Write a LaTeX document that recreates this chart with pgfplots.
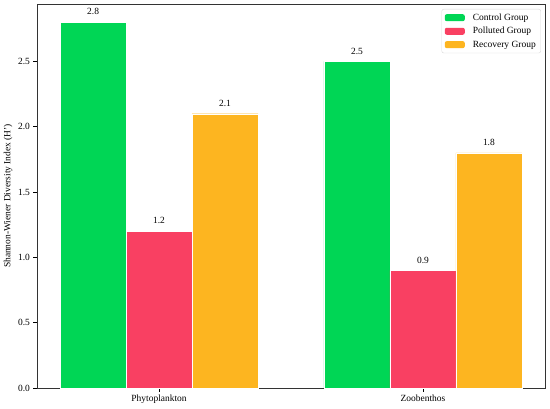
\documentclass[border=0pt]{standalone}
\usepackage{fontspec}
\setmainfont{Liberation Serif}
\usepackage{pgfplots}
\pgfplotsset{compat=1.18}
\definecolor{cgreen}{HTML}{00D655}
\definecolor{cred}{HTML}{F94062}
\definecolor{corange}{HTML}{FDB520}
\begin{document}
\begin{tikzpicture}
\useasboundingbox (-37bp,-21bp) rectangle (513bp,388bp);
\begin{axis}[
  at={(0,0)}, anchor=south west,
  scale only axis, width=508bp, height=384bp,
  xmin=-0.4625, xmax=1.4625,
  ymin=0, ymax=2.94,
  xtick={0,1}, xticklabels={Phytoplankton,Zoobenthos},
  ytick={0,0.5,1,1.5,2,2.5},
  yticklabel style={/pgf/number format/fixed,/pgf/number format/fixed zerofill,/pgf/number format/precision=1},
  /pgf/number format/assume math mode=true,
  tick align=outside, xtick pos=bottom, ytick pos=left,
  major tick length=3.5bp,
  tick style={black, line width=0.6bp},
  axis line style={line width=0.8bp, draw=black!80},
  ticklabel style={font=\fontsize{9.5}{11}\selectfont},
  ylabel={Shannon-Wiener Diversity Index (H')},
  ylabel style={at={(axis description cs:-0.057,0.5)}, anchor=center, rotate=0, font=\fontsize{9.5}{11}\selectfont},
  ybar, bar width=0.25, bar shift=0pt,
  nodes near coords,
  nodes near coords style={font=\fontsize{9.5}{11}\selectfont, anchor=south, inner sep=0pt, yshift=7bp,
    /pgf/number format/fixed,/pgf/number format/fixed zerofill,/pgf/number format/precision=1},
  legend style={at={(axis description cs:0.992,0.987)}, anchor=north east,
    draw=black!15, rounded corners=2bp, font=\fontsize{9.5}{11}\selectfont,
    inner xsep=3bp, inner ysep=2.5bp, row sep=1.5bp},
  legend cell align=left,
  legend image code/.code={\fill[#1, draw=none] (0bp,-3.5bp) rectangle (20bp,3.5bp); \path (26bp,0bp);},
]
\addplot[fill=cgreen, draw=white, line width=0.3bp] coordinates {(-0.25,2.8) (0.75,2.5)};
\addplot[fill=cred, draw=white, line width=0.3bp] coordinates {(0,1.2) (1,0.9)};
\addplot[fill=corange, draw=white, line width=0.3bp] coordinates {(0.25,2.1) (1.25,1.8)};
\legend{Control Group, Polluted Group, Recovery Group}
\end{axis}
\end{tikzpicture}
\end{document}
